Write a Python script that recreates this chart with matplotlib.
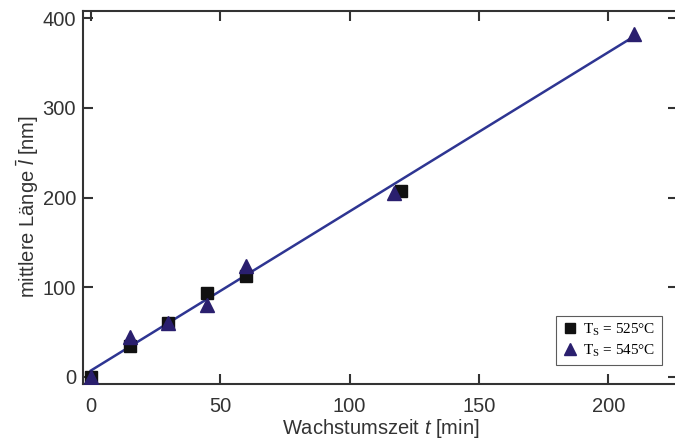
import numpy as np
import matplotlib
matplotlib.use("Agg")
import matplotlib.pyplot as plt

plt.rcParams['font.family'] = ['Liberation Sans', 'DejaVu Sans']
plt.rcParams['mathtext.fontset'] = 'custom'
plt.rcParams['mathtext.it'] = 'Liberation Sans:italic'
plt.rcParams['mathtext.rm'] = 'Liberation Sans'

# Wachstumszeit [min] / mittlere Laenge [nm]
t_525 = [0, 15, 30, 45, 60, 120]
l_525 = [0, 35, 60, 94, 113, 207]
t_545 = [0, 15, 30, 45, 60, 117, 210]
l_545 = [0, 44, 60, 80, 124, 205, 382]

# lineare Anpassung (Endpunkte)
fit_t = [0, 210]
fit_l = [7, 380]

xticks = [0, 50, 100, 150, 200]
yticks = [0, 100, 200, 300, 400]

fig = plt.figure(figsize=(6.75, 4.44), dpi=100)
ax = fig.add_axes([0.123, 0.135, 0.882, 0.84])

ax.plot(fit_t, fit_l, '-', color='#2e3592', lw=1.8, zorder=2)
ax.plot(t_525, l_525, 's', color='#111111', ms=8.5, mec='#111111',
        label=r'T$_\mathregular{S}$ = 525°C', zorder=3)
ax.plot(t_545, l_545, '^', color='#2a1f6e', ms=9.5, mec='#2a1f6e',
        label=r'T$_\mathregular{S}$ = 545°C', zorder=4)

ax.set_xlim(-3, 227)
ax.set_ylim(-8, 408)
ax.set_xticks(xticks)
ax.set_yticks(yticks)

for s in ax.spines.values():
    s.set_linewidth(1.5)
    s.set_color('#333333')
ax.tick_params(direction='in', length=7, width=1.5, color='#333333',
               top=True, right=True, labelsize=14.5, labelcolor='#333333')
ax.tick_params(axis='x', pad=9)
ax.tick_params(axis='y', pad=5)

ax.set_xlabel(r'Wachstumszeit $t$ [min]', fontsize=14.5, color='#333333', labelpad=1)
ax.set_ylabel(r'mittlere Länge $\bar{l}$ [nm]', fontsize=14.5, color='#333333')
ax.yaxis.set_label_coords(-0.071, 0.475)

leg = ax.legend(loc='lower right', bbox_to_anchor=(0.985, 0.03),
                prop={'family': 'Liberation Serif', 'size': 11},
                frameon=True, fancybox=False, edgecolor='#333333',
                handlelength=1.0, handletextpad=0.4, borderpad=0.4,
                labelspacing=0.3, markerscale=0.85)
leg.get_frame().set_linewidth(0.8)

fig.savefig('out.png', dpi=100)
